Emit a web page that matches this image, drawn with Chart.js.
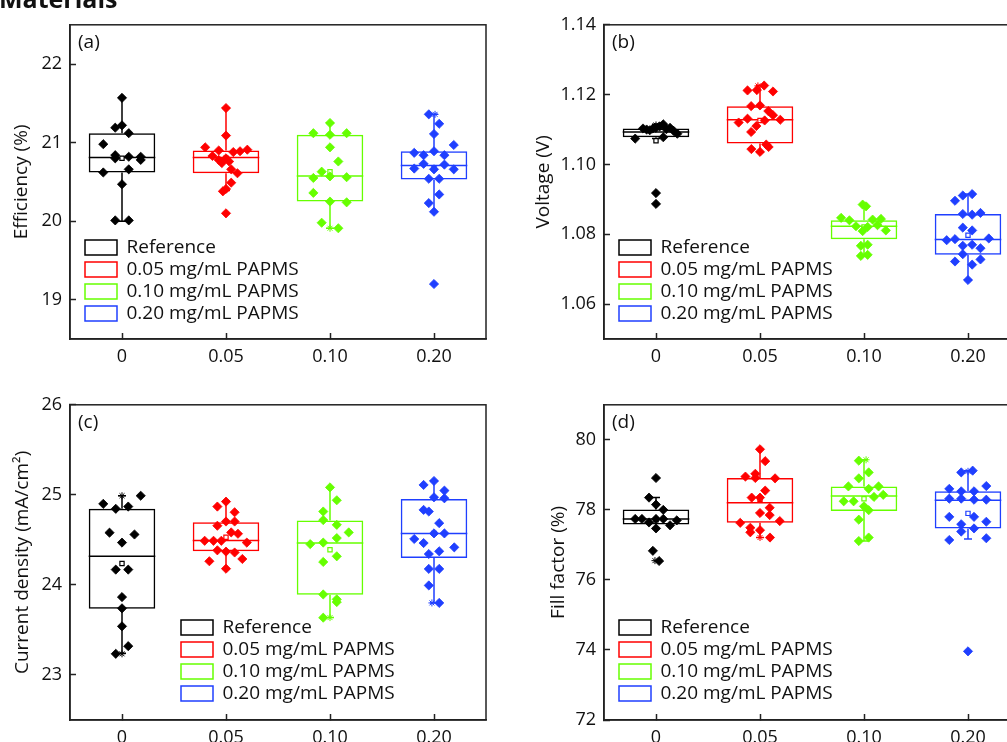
<!DOCTYPE html>
<html>
<head>
<meta charset="utf-8">
<title>PAPMS device statistics</title>
<script src="https://cdn.jsdelivr.net/npm/chart.js@4.4.1/dist/chart.umd.min.js"></script>
<style>
  html, body { margin: 0; padding: 0; background: #fff; }
  #page { position: relative; width: 1007px; height: 742px; overflow: hidden; }
  .panel { position: absolute; }
  #heading {
    position: absolute; left: -1px; top: -14px;
    font: bold 25px 'Open Sans', sans-serif; line-height: 25px;
    color: #111; white-space: nowrap;
  }
</style>
</head>
<body>
<div id="page">
  <canvas id="effChart" class="panel" width="500" height="380" style="left:0;top:0"></canvas>
  <canvas id="vocChart" class="panel" width="540" height="380" style="left:500px;top:0"></canvas>
  <canvas id="jscChart" class="panel" width="500" height="380" style="left:0;top:380px"></canvas>
  <canvas id="ffChart" class="panel" width="540" height="380" style="left:500px;top:380px"></canvas>
  <div id="heading">Materials</div>
</div>
<script>
// PAPMS concentration (mg/mL) groups
const categories = ['0', '0.05', '0.10', '0.20'];
const groupNames = ['Reference', '0.05 mg/mL PAPMS', '0.10 mg/mL PAPMS', '0.20 mg/mL PAPMS'];

// each device: [value, horizontal jitter in category units]
// (a) power conversion efficiency, %
const effPoints = [
  [[21.57, 0], [21.19, -0.065], [21.22, 0], [21.12, 0.065], [20.98, -0.18], [20.84, -0.065], [20.80, -0.065],
   [20.82, 0.065], [20.82, 0.18], [20.78, 0.18], [20.62, -0.18], [20.66, 0.065], [20.47, 0], [20.01, -0.065], [20.01, 0.065]],
  [[21.44, 0], [21.09, 0], [20.94, -0.2], [20.90, -0.07], [20.88, 0.07], [20.89, 0.135], [20.91, 0.205], [20.83, -0.13],
   [20.78, -0.07], [20.80, 0], [20.74, -0.04], [20.76, 0.03], [20.66, 0.05], [20.61, 0.11], [20.49, 0.05], [20.41, 0],
   [20.38, -0.03], [20.10, 0]],
  [[21.25, 0], [21.12, -0.16], [21.10, 0], [21.12, 0.16], [20.94, 0], [20.76, 0.08], [20.63, -0.08], [20.55, -0.16],
   [20.57, 0], [20.56, 0.16], [20.36, -0.16], [20.25, 0], [20.24, 0.16], [19.98, -0.08], [19.91, 0.08]],
  [[21.36, -0.05], [21.24, 0.05], [21.11, 0], [20.97, 0.19], [20.87, -0.19], [20.84, -0.1], [20.89, 0], [20.84, 0.1],
   [20.73, -0.1], [20.72, 0.1], [20.67, -0.19], [20.66, 0], [20.66, 0.19], [20.54, -0.05], [20.54, 0.05], [20.34, 0.05],
   [20.23, -0.05], [20.12, 0], [19.20, 0]]
];
const effQ1 = [20.62, 20.61, 20.25, 20.53];
const effMedian = [20.81, 20.81, 20.575, 20.71];
const effQ3 = [21.12, 20.90, 21.10, 20.89];
const effLow = [20.00, 20.39, 19.91, 20.12];
const effHigh = [21.57, 21.44, 21.25, 21.36];
const effMean = [20.80, 20.80, 20.63, 20.67];
const effExtremes = [[2, 19.91, 0], [3, 21.36, 0.01]];   // [group, value, jitter]
const effTicks = [19, 20, 21, 22];

// (b) open-circuit voltage, V
const vocPoints = [
  [[1.1074, -0.2], [1.1103, -0.125], [1.1100, -0.09], [1.1098, -0.06], [1.1103, -0.03], [1.1105, 0], [1.1109, 0.035],
   [1.1115, 0.07], [1.1078, 0.07], [1.1101, 0.1], [1.1105, 0.135], [1.1096, 0.17], [1.1088, 0.205], [1.0918, 0], [1.0887, 0]],
  [[1.1212, -0.12], [1.1213, -0.03], [1.1226, 0.04], [1.1209, 0.125], [1.1167, -0.085], [1.1169, 0], [1.1153, 0.08],
   [1.1141, 0.125], [1.1120, -0.205], [1.1131, -0.12], [1.1126, 0.045], [1.1128, 0.195], [1.1110, -0.035], [1.1093, -0.085],
   [1.1044, -0.083], [1.1036, 0], [1.1057, 0.06], [1.1050, 0.083]],
  [[1.0885, -0.013], [1.0880, 0.02], [1.0847, -0.22], [1.0840, -0.14], [1.0823, -0.077], [1.0821, 0.035], [1.0842, 0.083],
   [1.0844, 0.163], [1.0826, 0.13], [1.0811, 0.21], [1.0809, -0.013], [1.0767, -0.03], [1.0770, 0.035], [1.0738, -0.03],
   [1.0741, 0.035]],
  [[1.0896, -0.125], [1.0911, -0.05], [1.0915, 0.04], [1.0858, -0.05], [1.0856, 0.04], [1.0861, 0.12], [1.0819, -0.05],
   [1.0811, 0.04], [1.0783, -0.205], [1.0786, -0.125], [1.0788, 0.2], [1.0767, -0.05], [1.0770, 0.04], [1.0760, 0.12],
   [1.0743, -0.05], [1.0722, -0.125], [1.0728, 0.12], [1.0713, 0.04], [1.0669, 0]]
];
const vocQ1 = [1.1078, 1.1060, 1.0786, 1.0741];
const vocMedian = [1.1093, 1.1128, 1.0823, 1.0785];
const vocQ3 = [1.1103, 1.1167, 1.0840, 1.0858];
const vocLow = [1.1074, 1.1036, 1.0738, 1.0669];
const vocHigh = [1.1115, 1.1226, 1.0885, 1.0915];
const vocMean = [1.1068, 1.1126, 1.0821, 1.0797];
const vocExtremes = [[0, 1.1113, 0], [1, 1.1225, -0.02]];
const vocTicks = [1.06, 1.08, 1.10, 1.12, 1.14];

// (c) short-circuit current density, mA/cm2
const jscPoints = [
  [[24.90, -0.18], [24.845, -0.06], [24.87, 0.06], [24.99, 0.18], [24.58, -0.12], [24.56, 0.12], [24.47, 0],
   [24.17, -0.06], [24.17, 0.06], [23.865, 0], [23.74, 0], [23.54, 0], [23.32, 0.06], [23.235, -0.06]],
  [[24.87, -0.083], [24.925, 0], [24.807, 0.083], [24.657, -0.083], [24.704, 0], [24.704, 0.083], [24.583, 0.05],
   [24.568, 0.115], [24.49, -0.205], [24.49, -0.12], [24.49, -0.045], [24.47, 0.2], [24.384, -0.083], [24.37, 0],
   [24.36, 0.083], [24.263, -0.16], [24.288, 0.157], [24.18, 0]],
  [[25.083, 0], [24.94, 0.065], [24.815, -0.065], [24.72, -0.065], [24.667, 0.065], [24.583, 0.18], [24.52, 0.065],
   [24.453, -0.19], [24.47, -0.065], [24.318, 0.065], [24.255, -0.065], [23.894, -0.065], [23.84, 0.065], [23.81, 0.065],
   [23.636, -0.065]],
  [[25.11, -0.1], [25.154, 0], [25.047, 0.1], [24.973, 0], [24.962, 0.1], [24.833, -0.1], [24.815, -0.05], [24.686, 0.05],
   [24.572, 0], [24.572, 0.1], [24.51, -0.19], [24.465, -0.1], [24.417, 0.195], [24.343, -0.05], [24.373, 0.05],
   [24.178, -0.05], [24.178, 0.05], [23.994, -0.05], [23.80, 0.05]]
];
const jscQ1 = [23.736, 24.373, 23.89, 24.30];
const jscMedian = [24.318, 24.494, 24.465, 24.572];
const jscQ3 = [24.845, 24.697, 24.715, 24.955];
const jscLow = [23.24, 24.18, 23.637, 23.80];
const jscHigh = [24.99, 24.925, 25.083, 25.154];
const jscMean = [24.237, 24.53, 24.39, 24.572];
const jscExtremes = [[0, 24.99, 0], [0, 23.235, 0], [2, 23.637, 0], [3, 23.80, -0.02]];
const jscTicks = [23, 24, 25, 26];

// (d) fill factor, %
const ffPoints = [
  [[78.91, 0], [78.35, -0.067], [78.15, 0], [78.00, 0.07], [77.74, -0.2], [77.74, -0.135], [77.64, -0.067], [77.74, 0],
   [77.74, 0.07], [77.56, 0.135], [77.70, 0.2], [77.47, 0], [76.83, -0.03], [76.54, 0.03]],
  [[79.73, 0], [79.39, 0.05], [78.95, -0.14], [79.03, -0.045], [78.91, -0.045], [78.90, 0.145], [78.55, 0.05],
   [78.35, -0.08], [78.35, 0], [78.06, 0.093], [77.91, 0], [77.85, 0.093], [77.63, -0.19], [77.68, 0.19], [77.49, -0.093],
   [77.36, -0.093], [77.42, 0], [77.21, 0.096]],
  [[79.405, -0.05], [79.07, 0.045], [78.90, -0.05], [78.67, -0.15], [78.60, 0.045], [78.67, 0.14], [78.43, 0.185],
   [78.37, 0.096], [78.245, -0.195], [78.245, -0.1], [78.10, 0], [77.99, 0.045], [77.72, -0.05], [77.11, -0.05], [77.21, 0.045]],
  [[79.07, -0.065], [79.12, 0.045], [78.60, -0.18], [78.53, -0.065], [78.53, 0.058], [78.68, 0.176], [78.32, -0.18],
   [78.32, -0.065], [78.29, 0.058], [78.29, 0.176], [77.80, -0.18], [77.80, 0.058], [77.59, -0.065], [77.66, 0.176],
   [77.38, -0.065], [77.47, 0.058], [77.14, -0.18], [77.19, 0.176], [73.96, 0]]
];
const ffQ1 = [77.583, 77.63, 77.97, 77.47];
const ffMedian = [77.736, 78.206, 78.395, 78.273];
const ffQ3 = [78.007, 78.913, 78.67, 78.528];
const ffLow = [77.47, 77.21, 77.11, 77.17];
const ffHigh = [78.35, 79.734, 79.434, 79.12];
const ffMean = [77.72, 78.30, 78.32, 77.90];
const ffExtremes = [[0, 76.55, -0.01], [1, 77.21, 0], [2, 79.43, 0.02], [3, 79.10, 0]];
const ffTicks = [72, 74, 76, 78, 80];

const colors = ['#000000', '#ff0000', '#66ff00', '#1f3fff'];
const frameColor = '#222222';

Chart.defaults.font.family = "'Open Sans', sans-serif";
Chart.defaults.font.size = 19;
Chart.defaults.color = '#111111';

// closed frame around the plot area
const frame = {
  id: 'frame',
  beforeDatasetsDraw(chart) {
    const { ctx, chartArea: a } = chart;
    ctx.save();
    ctx.strokeStyle = frameColor;
    ctx.lineWidth = 1.5;
    ctx.strokeRect(a.left, a.top, a.right - a.left, a.bottom - a.top);
    ctx.restore();
  }
};

// median line and whiskers on top of each floating-bar box
const boxParts = {
  id: 'boxParts',
  afterDatasetDraw(chart, args) {
    const ds = chart.data.datasets[args.index];
    if (!ds.box) return;
    const { ctx } = chart;
    const y = chart.scales.y;
    const bar = args.meta.data[ds.box.index];
    const { x, width } = bar.getProps(['x', 'width'], true);
    const [q1, q3] = ds.data[ds.box.index];
    const cap = 4;
    ctx.save();
    ctx.strokeStyle = ds.borderColor;
    ctx.lineWidth = ds.borderWidth;
    ctx.beginPath();
    ctx.moveTo(x - width / 2, y.getPixelForValue(ds.box.median));
    ctx.lineTo(x + width / 2, y.getPixelForValue(ds.box.median));
    ctx.moveTo(x, y.getPixelForValue(q3));
    ctx.lineTo(x, y.getPixelForValue(ds.box.high));
    ctx.moveTo(x - cap, y.getPixelForValue(ds.box.high));
    ctx.lineTo(x + cap, y.getPixelForValue(ds.box.high));
    ctx.moveTo(x, y.getPixelForValue(q1));
    ctx.lineTo(x, y.getPixelForValue(ds.box.low));
    ctx.moveTo(x - cap, y.getPixelForValue(ds.box.low));
    ctx.lineTo(x + cap, y.getPixelForValue(ds.box.low));
    ctx.stroke();
    ctx.restore();
  }
};

// "(a)".."(d)" in the top-left corner of the plot area
const panelTag = {
  id: 'panelTag',
  afterDraw(chart, args, opts) {
    const { ctx, chartArea: a } = chart;
    ctx.save();
    ctx.font = "19px 'Open Sans', sans-serif";
    ctx.fillStyle = '#111';
    ctx.textBaseline = 'middle';
    ctx.fillText(opts.text, a.left + 8, a.top + 18);
    ctx.restore();
  }
};

// legend sits inside the plot area, lower left
const legendSpot = {
  id: 'legendSpot',
  beforeDraw(chart, args, opts) {
    const lg = chart.legend;
    if (!lg) return;
    lg.left = opts.x;
    lg.top = opts.y;
    lg.right = opts.x + lg.width;
    lg.bottom = opts.y + 200;
  }
};

function makePanel(id, spec) {
  const boxes = groupNames.map((name, i) => ({
    type: 'bar',
    label: name,
    data: categories.map((c, j) => (j === i ? [spec.q1[i], spec.q3[i]] : null)),
    backgroundColor: 'rgba(255,255,255,0)',
    borderColor: colors[i],
    borderWidth: 1.5,
    borderSkipped: false,
    grouped: false,
    barPercentage: 0.64,
    categoryPercentage: 1,
    order: 3,
    box: { index: i, median: spec.median[i], low: spec.low[i], high: spec.high[i] }
  }));

  const devices = groupNames.map((name, i) => ({
    type: 'scatter',
    label: name,
    xAxisID: 'xj',
    data: spec.points[i].map(([v, dx]) => ({ x: i + dx, y: v })),
    pointStyle: 'rectRot',
    pointRadius: 4.6,
    pointBorderWidth: 0.8,
    pointBackgroundColor: colors[i],
    pointBorderColor: colors[i],
    order: 1
  }));

  const means = {
    type: 'scatter',
    label: 'mean',
    xAxisID: 'xj',
    data: spec.mean.map((m, i) => ({ x: i, y: m })),
    pointStyle: 'rect',
    pointRadius: 3,
    pointBackgroundColor: '#ffffff',
    pointBorderColor: colors,
    pointBorderWidth: 1.2,
    order: 2
  };

  const extremes = {
    type: 'scatter',
    label: 'min/max',
    xAxisID: 'xj',
    data: spec.extremes.map(([g, v, dx]) => ({ x: g + dx, y: v })),
    pointStyle: 'star',
    pointRadius: 3.5,
    pointBorderColor: spec.extremes.map(([g]) => colors[g]),
    pointBorderWidth: 1,
    order: 2
  };

  const axisLine = { display: true, color: frameColor, width: 1.5 };
  const innerTicks = {
    display: true, drawOnChartArea: false, offset: false,
    tickLength: -6, tickWidth: 1.5, tickColor: frameColor
  };

  new Chart(document.getElementById(id), {
    type: 'bar',
    data: { labels: categories, datasets: [...boxes, ...devices, means, extremes] },
    options: {
      responsive: false,
      animation: false,
      events: [],
      layout: { padding: spec.padding },
      scales: {
        x: {
          type: 'category',
          offset: true,
          grid: innerTicks,
          border: axisLine,
          ticks: { padding: 13, maxRotation: 0, autoSkip: false, font: { size: 18 } },
          afterFit: (s) => { s.height = spec.xHeight; }
        },
        // jitter axis for the device markers, same span as the categories
        xj: { type: 'linear', display: false, offset: false, min: -0.5, max: 3.5, grid: { offset: false } },
        y: {
          type: 'linear',
          min: spec.yMin,
          max: spec.yMax,
          grid: innerTicks,
          border: axisLine,
          afterBuildTicks: (s) => { s.ticks = spec.ticks.map((value) => ({ value })); },
          ticks: { padding: 14, font: { size: 18 }, callback: (v) => v.toFixed(spec.decimals) },
          title: { display: true, text: spec.title, padding: { top: spec.titlePad, bottom: 0 }, font: { size: 19 } },
          afterFit: (s) => { s.width = spec.yWidth; }
        }
      },
      plugins: {
        legend: {
          position: 'chartArea',
          align: 'start',
          labels: {
            boxWidth: 32, boxHeight: 15, padding: 3, color: '#111',
            font: { size: 19 },
            filter: (item) => item.datasetIndex < groupNames.length
          }
        },
        tooltip: { enabled: false },
        legendSpot: spec.legendAt,
        panelTag: { text: spec.tag }
      }
    },
    plugins: [frame, boxParts, panelTag, legendSpot]
  });
}

makePanel('effChart', {
  points: effPoints, q1: effQ1, median: effMedian, q3: effQ3, low: effLow, high: effHigh,
  mean: effMean, extremes: effExtremes, ticks: effTicks, yMin: 18.5, yMax: 22.5, decimals: 0,
  title: 'Efficiency (%)', titlePad: 10, tag: '(a)',
  padding: { left: 0, top: 22, right: 14, bottom: 0 }, yWidth: 70, xHeight: 41,
  legendAt: { x: 82, y: 235 }
});

makePanel('vocChart', {
  points: vocPoints, q1: vocQ1, median: vocMedian, q3: vocQ3, low: vocLow, high: vocHigh,
  mean: vocMean, extremes: vocExtremes, ticks: vocTicks, yMin: 1.05, yMax: 1.14, decimals: 2,
  title: 'Voltage (V)', titlePad: 32, tag: '(b)',
  padding: { left: 0, top: 22, right: 20, bottom: 0 }, yWidth: 104, xHeight: 41,
  legendAt: { x: 116, y: 235 }
});

makePanel('jscChart', {
  points: jscPoints, q1: jscQ1, median: jscMedian, q3: jscQ3, low: jscLow, high: jscHigh,
  mean: jscMean, extremes: jscExtremes, ticks: jscTicks, yMin: 22.5, yMax: 26, decimals: 0,
  title: 'Current density (mA/cm²)', titlePad: 11, tag: '(c)',
  padding: { left: 0, top: 23, right: 14, bottom: 0 }, yWidth: 70, xHeight: 40,
  legendAt: { x: 178, y: 235 }
});

makePanel('ffChart', {
  points: ffPoints, q1: ffQ1, median: ffMedian, q3: ffQ3, low: ffLow, high: ffHigh,
  mean: ffMean, extremes: ffExtremes, ticks: ffTicks, yMin: 72, yMax: 81, decimals: 0,
  title: 'Fill factor (%)', titlePad: 47, tag: '(d)',
  padding: { left: 0, top: 23, right: 20, bottom: 0 }, yWidth: 104, xHeight: 40,
  legendAt: { x: 116, y: 235 }
});
</script>
</body>
</html>
